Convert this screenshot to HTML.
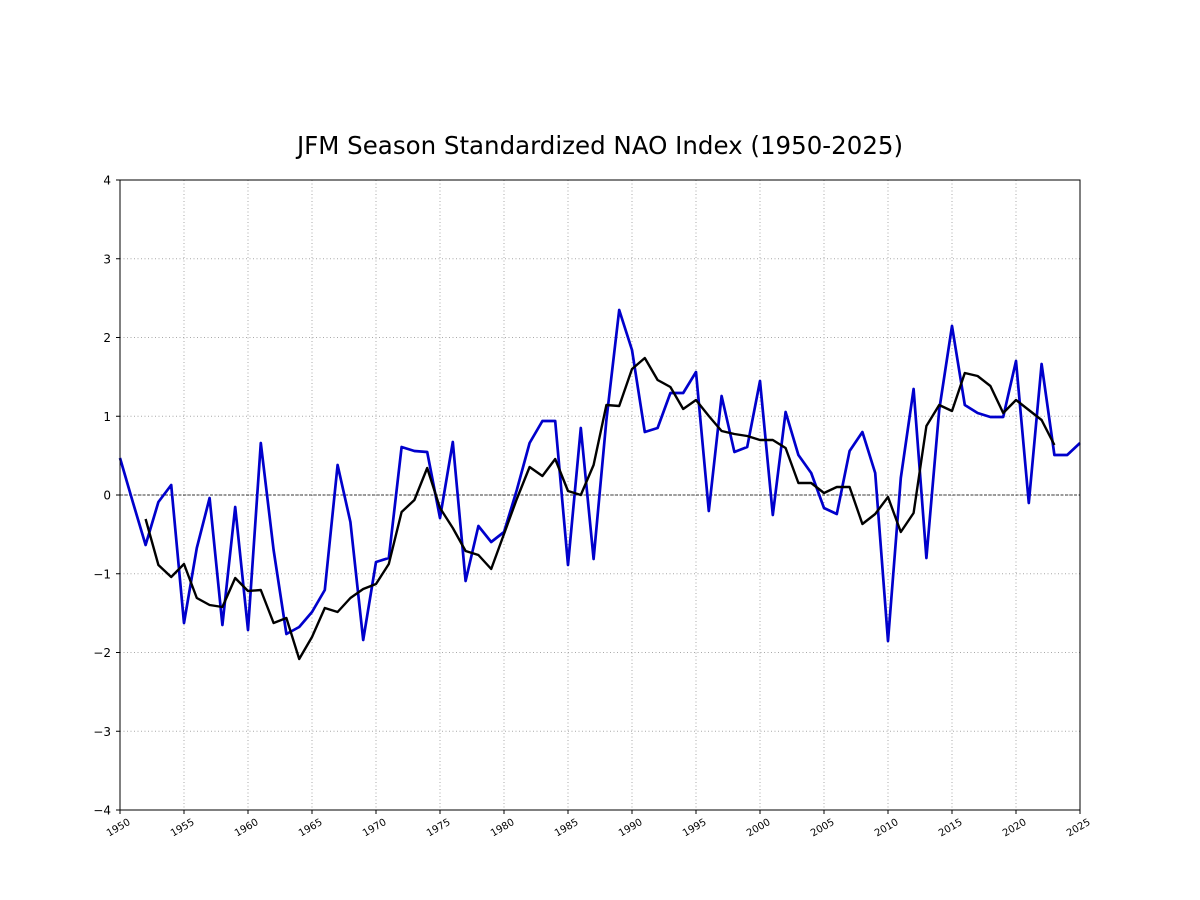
<!DOCTYPE html>
<html><head><meta charset="utf-8"><style>
html,body{margin:0;padding:0;background:#fff;}
svg{display:block;font-family:"DejaVu Sans","Liberation Sans",sans-serif;}
</style></head><body>
<svg id="s" width="1200" height="900" xmlns="http://www.w3.org/2000/svg">
<rect width="1200" height="900" fill="#fff"/>
<text x="600" y="154" font-size="24.5" text-anchor="middle">JFM Season Standardized NAO Index (1950-2025)</text>
<g id="grid" stroke="#a8a8a8" stroke-width="1" stroke-dasharray="1,2.5"></g>
<line x1="120" y1="495" x2="1080" y2="495" stroke="#000" stroke-width="0.8" stroke-dasharray="3,1.5"/>
<polyline id="blue" fill="none" stroke="#0000cc" stroke-width="2.7" stroke-linejoin="round"/>
<polyline id="black" fill="none" stroke="#000" stroke-width="2.4" stroke-linejoin="round"/>
<rect x="120" y="180" width="960" height="630" fill="none" stroke="#000" stroke-width="1"/>
<g id="ticks"></g>
</svg>
<script>
var ns="http://www.w3.org/2000/svg";
function X(y){return 120+(y-1950)*12.8;}
var g=document.getElementById('grid'),t=document.getElementById('ticks');
function el(p,tag,a,txt){var e=document.createElementNS(ns,tag);for(var k in a)e.setAttribute(k,a[k]);if(txt)e.textContent=txt;p.appendChild(e);return e;}
for(var v=-4;v<=4;v++){var y=495-v*78.75;
 if(v>-4&&v<4)el(g,'line',{x1:120,x2:1080,y1:y,y2:y});
 el(t,'line',{x1:116,x2:120,y1:y,y2:y,stroke:'#000'});
 el(t,'text',{x:111,y:y+4.5,'font-size':12,'text-anchor':'end'},v<0?'\u2212'+(-v):''+v);}
for(var yr=1950;yr<=2025;yr+=5){var x=X(yr);
 if(yr>1950&&yr<2025)el(g,'line',{x1:x,x2:x,y1:180,y2:810});
 el(t,'line',{x1:x,x2:x,y1:810,y2:814,stroke:'#000'});
 var lx=x+11,ly=824;
 el(t,'text',{x:lx,y:ly,'font-size':10,'text-anchor':'end',transform:'rotate(-30 '+lx+' '+ly+')'},''+yr);}
var b=[458,502,545,502,485,623,548,498,625,507,630,443,550,634,627,612,590,465,522,640,562,558,447,451,452,518,442,581,526,542,532,490,443,421,421,565,428,559,420,310,350,432,428,393,393,372,511,396,452,447,381,515,412,455,473,508,514,451,432,473,641,478,389,558,410,326,405,413,417,417,361,503,364,455,455,443];
var k=[519,565,577,564,598,605,607,578,591,590,623,618,659,637,608,612,598,589,584,564,512,500,468,508,528,551,555,569,534,499,467,476,459,491,495,465,405,406,369,358,380,387,409,400,416,431,434,436,440,440,448,483,483,493,487,487,524,514,497,532,513,426,405,411,373,376,386,413,400,410,420,445];
document.getElementById('blue').setAttribute('points',b.map(function(v,i){return X(1950+i)+','+v}).join(' '));
document.getElementById('black').setAttribute('points',k.map(function(v,i){return X(1952+i)+','+v}).join(' '));
</script>
</body></html>
